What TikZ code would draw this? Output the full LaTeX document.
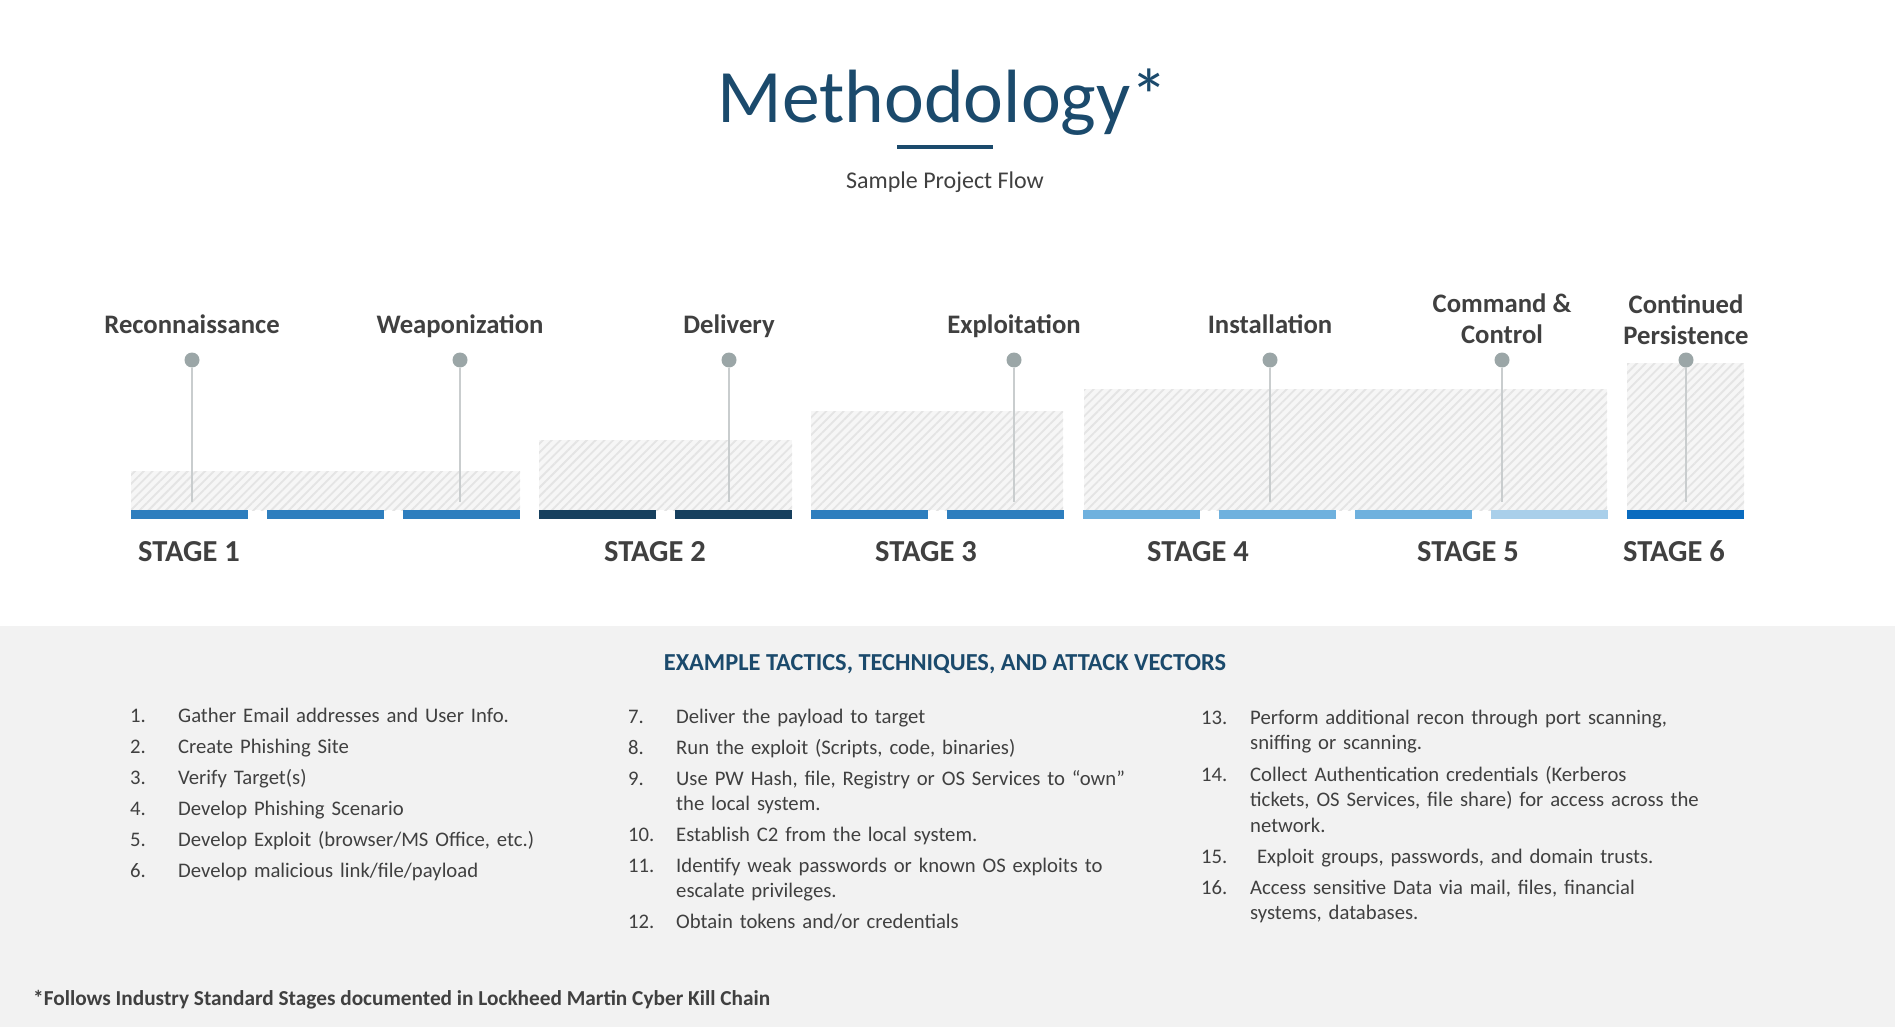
\documentclass[tikz,border=0pt]{standalone}
\usepackage{fontspec}
\setmainfont{Carlito}
\usetikzlibrary{patterns.meta}

\definecolor{titleblue}{HTML}{1B4A6C}
\definecolor{textgray}{HTML}{404040}
\definecolor{dotgray}{HTML}{9BA6A7}
\definecolor{stemgray}{HTML}{C9CDCE}
\definecolor{hatchbg}{HTML}{F6F6F6}
\definecolor{hatchln}{HTML}{E4E4E4}
\definecolor{panelgray}{HTML}{F2F2F2}
\definecolor{barA}{HTML}{2E7EBE}
\definecolor{barB}{HTML}{17405E}
\definecolor{barC}{HTML}{6FB1DE}
\definecolor{barD}{HTML}{A9CFEA}
\definecolor{barE}{HTML}{0A6BBF}

\newcommand{\fs}[2]{\fontsize{#1}{#2}\selectfont}

\begin{document}
\begin{tikzpicture}[x=1pt,y=-1pt,
  phase/.style={font=\fs{26.7}{31}\bfseries, text=textgray, align=center, inner sep=0pt},
  pin/.style={circle, fill=dotgray, minimum size=15pt, inner sep=0pt},
  stem/.style={draw=stemgray, line width=1.4pt},
  bar/.style={minimum width=117pt, minimum height=9pt, inner sep=0pt, anchor=north west, fill=#1},
  stagelbl/.style={font=\fs{30.5}{36}\bfseries, text=textgray, inner sep=0pt, anchor=base},
  hatch/.style={fill=hatchbg, postaction={pattern={Lines[angle=45,distance=6.2pt,line width=1.8pt]}, pattern color=hatchln}},
  num/.style={font=\fs{20.7}{25.5}, text=textgray, anchor=base west, inner sep=0pt},
  item/.style={font=\fs{20.7}{25.5}, text=textgray, anchor=base west, inner sep=0pt, align=left, text width=500pt}
]
\useasboundingbox (0,0) rectangle (1895,1027);
\fill[white] (0,0) rectangle (1895,626);
\fill[panelgray] (0,626) rectangle (1895,1027);

% heading
\node[font=\fs{75.5}{90}, text=titleblue, inner sep=0pt] (title) at (943,102) {Methodology*};
\draw[titleblue, line width=4pt] (897,147) -- (993,147);
\node[font=\fs{24}{29}, text=textgray, inner sep=0pt] (sub) at (945,182) {Sample Project Flow};

% hatched backdrops
\path[hatch] (131,471) rectangle (520,510);
\path[hatch] (539,440) rectangle (792,510);
\path[hatch] (811,411) rectangle (1063,510);
\path[hatch] (1084,389) rectangle (1607,510);
\path[hatch] (1627,363) rectangle (1744,510);

% stage bars
\foreach \i/\c in {0/barA,1/barA,2/barA,3/barB,4/barB,5/barA,6/barA,7/barC,8/barC,9/barC,10/barD,11/barE}
  \node[bar=\c] (b\i) at ({131+136*\i},510) {};

% single-line phase labels
\foreach \n/\x/\t in {1/192/Reconnaissance, 2/460/Weaponization, 3/729/Delivery,
    4/1014/Exploitation, 5/1270/Installation}
  \node[phase, anchor=base] (l\n) at (\x,333) {\t};
% two-line phase labels
\node[phase] (l6) at (1502,319) {Command \&\\Control};
\node[phase] (l7) at (1686,320) {Continued\\Persistence};

% pins and stems
\foreach \n/\x in {1/192, 2/460, 3/729, 4/1014, 5/1270, 6/1502, 7/1686}{
  \node[pin] (d\n) at (\x,360) {};
  \coordinate (e\n) at (\x,502);
  \draw[stem] (d\n.south) -- (e\n);
}

% stage captions
\node[stagelbl, anchor=base west] (s1) at (138,561) {STAGE 1};
\node[stagelbl] (s2) at (655,561) {STAGE 2};
\node[stagelbl] (s3) at (926,561) {STAGE 3};
\node[stagelbl] (s4) at (1198,561) {STAGE 4};
\node[stagelbl] (s5) at (1468,561) {STAGE 5};
\node[stagelbl] (s6) at (1674,561) {STAGE 6};

% examples panel
\node[font=\fs{24.4}{29}\bfseries, text=titleblue, inner sep=0pt] (ex) at (945,664) {EXAMPLE TACTICS, TECHNIQUES, AND ATTACK VECTORS};

% first column
\foreach \k/\y/\t in {1/722/{Gather Email addresses and User Info.},
    2/753/{Create Phishing Site}, 3/784/{Verify Target(s)}, 4/815/{Develop Phishing Scenario},
    5/846/{Develop Exploit (browser/MS Office, etc.)}, 6/877/{Develop malicious link/file/payload}}{
  \node[num] (n\k) at (130,\y) {\k.};
  \node[item] (t\k) at (178,\y) {\t};
}

% second column
\foreach \k/\y/\t in {7/723/{Deliver the payload to target},
    8/754/{Run the exploit (Scripts, code, binaries)},
    9/785/{Use PW Hash, file, Registry or OS Services to “own”\\the local system.},
    10/841/{Establish C2 from the local system.},
    11/872/{Identify weak passwords or known OS exploits to\\escalate privileges.},
    12/928/{Obtain tokens and/or credentials}}{
  \node[num] (n\k) at (628,\y) {\k.};
  \node[item] (t\k) at (676,\y) {\t};
}

% third column
\foreach \k/\y/\t in {13/724/{Perform additional recon through port scanning,\\sniffing or scanning.},
    14/781/{Collect Authentication credentials (Kerberos\\tickets, OS Services, file share) for access across the\\network.},
    15/863/{\ Exploit groups, passwords, and domain trusts.},
    16/894/{Access sensitive Data via mail, files, financial\\systems, databases.}}{
  \node[num] (n\k) at (1201,\y) {\k.};
  \node[item] (t\k) at (1250,\y) {\t};
}

% footnote
\node[font=\fs{21.3}{25}\bfseries, text=textgray, anchor=base west, inner sep=0pt] (foot) at (33,1005)
  {*Follows Industry Standard Stages documented in Lockheed Martin Cyber Kill Chain};
\end{tikzpicture}
\end{document}
